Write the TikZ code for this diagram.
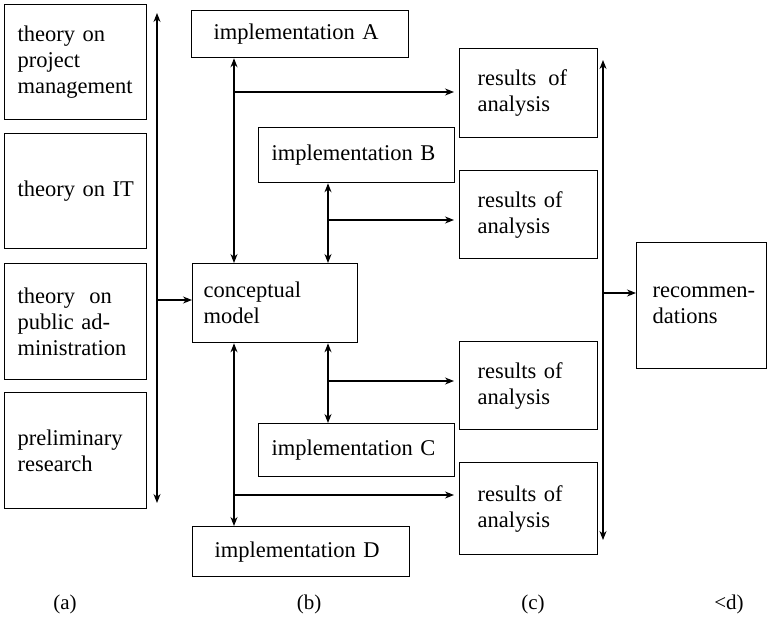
\documentclass[tikz,border=0pt]{standalone}
\usepackage{fontspec}
\setmainfont{Liberation Serif}
\usetikzlibrary{arrows.meta}
\begin{document}
\begin{tikzpicture}[x=1pt,y=-1pt,
  box/.style={draw, line width=1.3pt, inner xsep=0pt, inner ysep=0pt,
    anchor=north west, align=left, font=\fontsize{22.5}{26}\selectfont},
  tip/.tip={Stealth[length=9pt,width=7pt]},
  link/.style={line width=1.1pt, -tip},
  both/.style={line width=1.1pt, tip-tip},
  tag/.style={font=\fontsize{21}{24}\selectfont}]
\useasboundingbox (0,0) rectangle (767,623);

% column (a): theory inputs
\node[box, minimum width=142pt, minimum height=115pt, text width=116pt] (t1) at (4,4)
  {theory on\\project\\\mbox{management}};
\node[box, minimum width=142pt, minimum height=115pt, text width=116pt] (t2) at (4,133)
  {\mbox{theory on IT}};
\node[box, minimum width=142pt, minimum height=116pt, text width=116pt] (t3) at (4,263)
  {\mbox{theory\hspace{0.3em} on}\\\mbox{public ad-}\\\mbox{ministration}};
\node[box, minimum width=142pt, minimum height=116pt, text width=116pt] (t4) at (4,392)
  {preliminary\\research};

% column (b): model and implementations
\node[box, minimum width=217pt, minimum height=47pt, text width=173pt] (iA) at (191,10)
  {implementation A};
\node[box, minimum width=196pt, minimum height=55pt, text width=170pt] (iB) at (258,127)
  {implementation B};
\node[box, minimum width=165pt, minimum height=79pt, text width=143pt] (cm) at (192,263)
  {conceptual\\model};
\node[box, minimum width=196pt, minimum height=53pt, text width=170pt] (iC) at (258,423)
  {implementation C};
\node[box, minimum width=217pt, minimum height=50pt, text width=173pt] (iD) at (192,526)
  {implementation D};

% column (c): results
\node[box, minimum width=138pt, minimum height=89pt, text width=102pt] (r1) at (459,48)
  {\mbox{results\hspace{0.2em} of}\\analysis};
\node[box, minimum width=138pt, minimum height=88pt, text width=102pt] (r2) at (459,170)
  {\mbox{results of}\\analysis};
\node[box, minimum width=138pt, minimum height=88pt, text width=102pt] (r3) at (459,341)
  {\mbox{results of}\\analysis};
\node[box, minimum width=138pt, minimum height=92pt, text width=102pt] (r4) at (459,462)
  {\mbox{results of}\\analysis};

% column (d): recommendations
\node[box, minimum width=130pt, minimum height=126pt, text width=98pt] (rec) at (636,242)
  {\mbox{recommen-}\\dations};

% left collector bar
\coordinate (lt) at (157,13);
\coordinate (lb) at (157,503);
\coordinate (lj) at (157,300);
\draw[both] (lb) -- (lt);
\draw[link] (lj) -- (lj -| cm.west);

% links between the model and the implementations
\coordinate (xa) at (234,0);
\coordinate (xb) at (328,0);
\draw[both] (iA.south -| xa) -- (cm.north -| xa);
\draw[both] (iB.south -| xb) -- (cm.north -| xb);
\draw[both] (cm.south -| xa) -- (iD.north -| xa);
\draw[both] (cm.south -| xb) -- (iC.north -| xb);

% branches to the results
\coordinate (ja) at (234,92);
\coordinate (jb) at (328,220);
\coordinate (jc) at (328,381);
\coordinate (jd) at (234,495);
\draw[link, shorten >=5pt] (ja) -- (ja -| r1.west);
\draw[link, shorten >=5pt] (jb) -- (jb -| r2.west);
\draw[link, shorten >=5pt] (jc) -- (jc -| r3.west);
\draw[link, shorten >=5pt] (jd) -- (jd -| r4.west);

% right collector bar
\coordinate (rt) at (603,60);
\coordinate (rb) at (603,540);
\coordinate (rj) at (603,293);
\draw[both] (rb) -- (rt);
\draw[link] (rj) -- (rj -| rec.west);

% column captions
\node[tag] (ca) at (65,604) {(a)};
\node[tag] (cb) at (309,604) {(b)};
\node[tag] (cc) at (533,604) {(c)};
\node[tag] (cd) at (729,604) {<d)};
\end{tikzpicture}
\end{document}
